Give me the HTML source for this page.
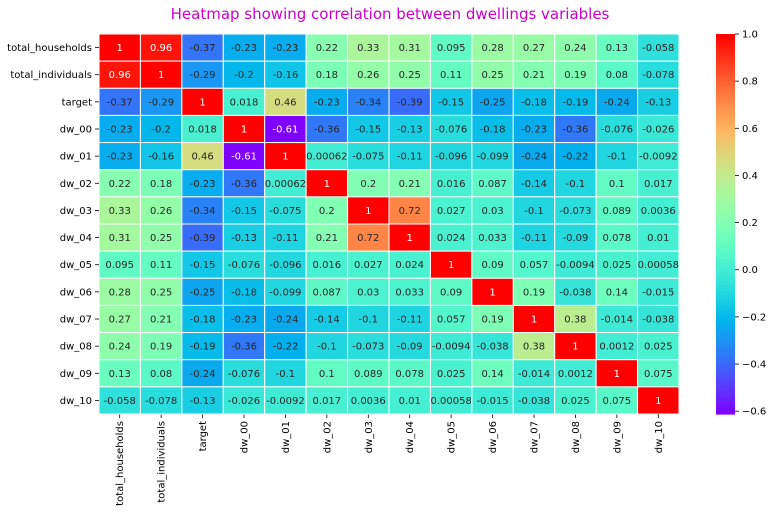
<!DOCTYPE html><html><head><style>body{margin:0;background:#fff}svg{display:block;font-family:"DejaVu Sans","Liberation Sans",sans-serif}</style></head><body>
<svg id="s" width="773" height="513" xmlns="http://www.w3.org/2000/svg">
<text x="390" y="19" text-anchor="middle" font-size="15" fill="#cc00cc">Heatmap showing correlation between dwellings variables</text>
</svg>
<script>
const L=["total_households","total_individuals","target","dw_00","dw_01","dw_02","dw_03","dw_04","dw_05","dw_06","dw_07","dw_08","dw_09","dw_10"];
const D=[
["1","0.96","-0.37","-0.23","-0.23","0.22","0.33","0.31","0.095","0.28","0.27","0.24","0.13","-0.058"],
["0.96","1","-0.29","-0.2","-0.16","0.18","0.26","0.25","0.11","0.25","0.21","0.19","0.08","-0.078"],
["-0.37","-0.29","1","0.018","0.46","-0.23","-0.34","-0.39","-0.15","-0.25","-0.18","-0.19","-0.24","-0.13"],
["-0.23","-0.2","0.018","1","-0.61","-0.36","-0.15","-0.13","-0.076","-0.18","-0.23","-0.36","-0.076","-0.026"],
["-0.23","-0.16","0.46","-0.61","1","0.00062","-0.075","-0.11","-0.096","-0.099","-0.24","-0.22","-0.1","-0.0092"],
["0.22","0.18","-0.23","-0.36","0.00062","1","0.2","0.21","0.016","0.087","-0.14","-0.1","0.1","0.017"],
["0.33","0.26","-0.34","-0.15","-0.075","0.2","1","0.72","0.027","0.03","-0.1","-0.073","0.089","0.0036"],
["0.31","0.25","-0.39","-0.13","-0.11","0.21","0.72","1","0.024","0.033","-0.11","-0.09","0.078","0.01"],
["0.095","0.11","-0.15","-0.076","-0.096","0.016","0.027","0.024","1","0.09","0.057","-0.0094","0.025","0.00058"],
["0.28","0.25","-0.25","-0.18","-0.099","0.087","0.03","0.033","0.09","1","0.19","-0.038","0.14","-0.015"],
["0.27","0.21","-0.18","-0.23","-0.24","-0.14","-0.1","-0.11","0.057","0.19","1","0.38","-0.014","-0.038"],
["0.24","0.19","-0.19","-0.36","-0.22","-0.1","-0.073","-0.09","-0.0094","-0.038","0.38","1","0.0012","0.025"],
["0.13","0.08","-0.24","-0.076","-0.1","0.1","0.089","0.078","0.025","0.14","-0.014","0.0012","1","0.075"],
["-0.058","-0.078","-0.13","-0.026","-0.0092","0.017","0.0036","0.01","0.00058","-0.015","-0.038","0.025","0.075","1"]];
const vmin=-0.612,vmax=1;
function col(v){let x=Math.min(1,Math.max(0,(v-vmin)/(vmax-vmin)));let r=Math.min(1,Math.abs(2*x-0.5)),g=Math.sin(Math.PI*x),b=Math.cos(Math.PI*x/2);return [r,g,b];}
function hex(c){return "rgb("+c.map(t=>Math.round(t*255)).join(",")+")";}
const s=document.getElementById("s");let h="";
const X0=99,Y0=34,W=580/14,H=380/14;
for(let i=0;i<14;i++){for(let j=0;j<14;j++){const v=parseFloat(D[i][j]);const c=col(v);
h+=`<rect x="${X0+j*W}" y="${Y0+i*H}" width="${W}" height="${H}" fill="${hex(c)}" stroke="#fff" stroke-width="1"/>`;
h+=`<text x="${X0+j*W+W/2}" y="${Y0+i*H+H/2+3.5}" text-anchor="middle" font-size="10" fill="${(v>0.9||v<-0.5)?'#fff':'#262626'}">${D[i][j]}</text>`;}
h+=`<line x1="${X0-4}" x2="${X0}" y1="${Y0+i*H+H/2}" y2="${Y0+i*H+H/2}" stroke="#000" stroke-width="0.8"/><text x="${X0-7}" y="${Y0+i*H+H/2+3.5}" text-anchor="end" font-size="10" fill="#000">${L[i]}</text>`;
const cx=X0+i*W+W/2;h+=`<line x1="${cx}" x2="${cx}" y1="${Y0+380}" y2="${Y0+384}" stroke="#000" stroke-width="0.8"/><text transform="translate(${cx+3.5},${Y0+387}) rotate(-90)" text-anchor="end" font-size="10" fill="#000">${L[i]}</text>`;}
const CX=716,CW=19,CT=34,CB=414;let n=120;
for(let k=0;k<n;k++){const v=vmin+(vmax-vmin)*(k+0.5)/n;const y=CB-(k+1)*(CB-CT)/n;h+=`<rect x="${CX}" y="${y}" width="${CW}" height="${(CB-CT)/n+0.6}" fill="${hex(col(v))}"/>`;}
[-0.6,-0.4,-0.2,0,0.2,0.4,0.6,0.8,1.0].forEach(t=>{const y=CB-(t-vmin)/(vmax-vmin)*(CB-CT);h+=`<line x1="${CX+CW}" x2="${CX+CW+4}" y1="${y}" y2="${y}" stroke="#000" stroke-width="0.8"/><text x="${CX+CW+7}" y="${y+3.5}" font-size="10" fill="#000">${t<0?'\u2212'+(-t).toFixed(1):t.toFixed(1)}</text>`;});
s.insertAdjacentHTML("beforeend",h);
</script></body></html>
